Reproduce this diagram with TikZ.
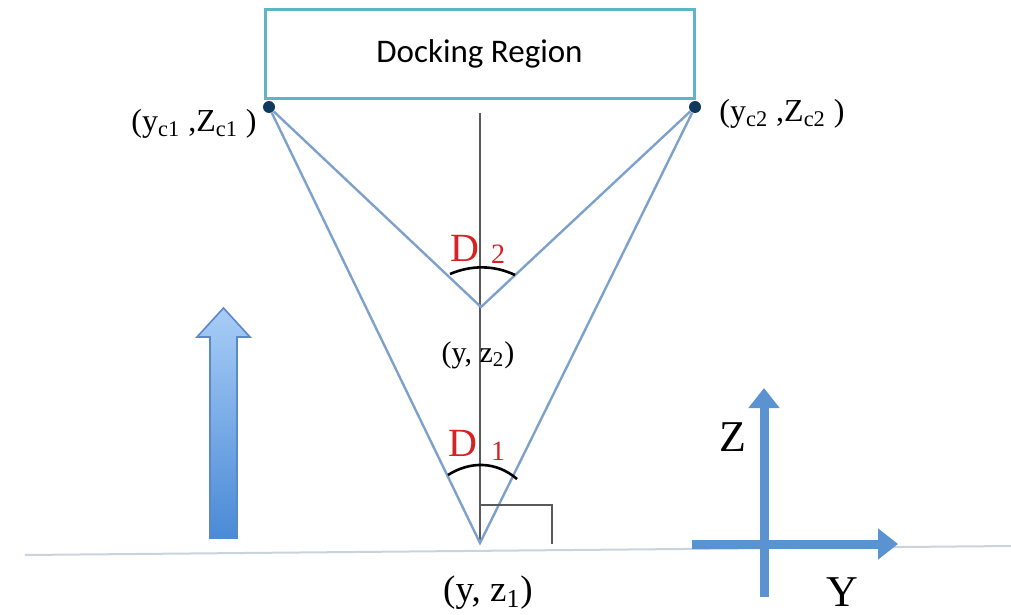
\documentclass[tikz,border=0pt]{standalone}
\usepackage{fontspec}
\setmainfont{Liberation Serif}
\newfontfamily\calibri{Carlito}
\usetikzlibrary{arrows.meta}
\definecolor{dockcol}{HTML}{5FB4C9}
\definecolor{conecol}{HTML}{7EA1CC}
\definecolor{dotcol}{HTML}{0E3A5E}
\definecolor{axiscol}{HTML}{5B93D1}
\definecolor{groundcol}{HTML}{C9D3DC}
\definecolor{anglecol}{HTML}{D62222}
\definecolor{movetop}{HTML}{A8CDF6}
\definecolor{movebot}{HTML}{4A8AD6}
\definecolor{moveedge}{HTML}{5A88C8}

\begin{document}
\begin{tikzpicture}[x=0.5pt,y=-0.5pt,
    coneline/.style={draw=conecol,line width=1.2pt},
    cornerdot/.style={circle,fill=dotcol,inner sep=0pt,minimum size=6pt},
    pointlabel/.style={font=\fontsize{16}{18}\selectfont,inner sep=0pt},
    anglearc/.style={draw=black,line width=1.3pt},
    anglelab/.style={text=anglecol,font=\fontsize{20}{22}\selectfont,inner sep=0pt},
    angleidx/.style={text=anglecol,font=\fontsize{14}{16}\selectfont,inner sep=0pt},
    axisarrow/.style={draw=axiscol,line width=4.5pt,-{Triangle[length=10pt,width=15pt]}}]
  \useasboundingbox (0,0) rectangle (1011,615);
  % ground
  \coordinate (gl) at (25,555);
  \coordinate (gr) at (1011,546);
  \draw[groundcol,line width=1pt] (gl) -- (gr);
  % docking region
  \node[draw=dockcol,line width=1.5pt,minimum width=214.5pt,minimum height=44.5pt,
    font=\calibri\fontsize{16.5}{18}\selectfont] (dock) at (479.5,54) {Docking Region};
  \node[cornerdot] (c1) at (269,107) {};
  \node[cornerdot] (c2) at (695,107) {};
  \node[pointlabel,anchor=east] (c1lab) at (257,124) {(y\textsubscript{c1} ,Z\textsubscript{c1} )};
  \node[pointlabel,anchor=west] (c2lab) at (719,114) {(y\textsubscript{c2} ,Z\textsubscript{c2} )};
  % apexes
  \coordinate (p2) at (481,307);
  \coordinate (p1) at (480,543);
  \coordinate (vtop) at (480,113);
  \draw[gray!70!black,line width=1pt] (vtop) -- (p1);
  \draw[coneline] (c1) -- (p2) -- (c2);
  \draw[coneline] (c1) -- (p1) -- (c2);
  % angle arcs
  \draw[anglearc] (450,274) .. controls (471,265) and (494,265) .. (515,275);
  \draw[anglearc] (448,475) .. controls (470,461) and (496,461) .. (517,479);
  \node[anglelab] (d2) at (465,248) {D};
  \node[angleidx] (d2i) at (498,254) {2};
  \node[anglelab] (d1) at (463,443) {D};
  \node[angleidx] (d1i) at (498,451) {1};
  \node[pointlabel,font=\fontsize{15}{17}\selectfont] (p2lab) at (478,355) {(y, z\textsubscript{2})};
  \node[pointlabel,font=\fontsize{18.5}{20}\selectfont] (p1lab) at (488,593) {(y, z\textsubscript{1})};
  % right angle
  \coordinate (ra1) at (480,505);
  \coordinate (ra2) at (552,505);
  \coordinate (ra3) at (552,544);
  \draw[gray!70!black,line width=1pt] (ra1) -- (ra2) -- (ra3);
  % motion arrow
  \shade[top color=movetop,bottom color=movebot,draw=moveedge,line width=0.8pt]
    (210,538) -- (210,337) -- (197,337) -- (223.5,308) -- (250,337) -- (237,337) -- (237,538) -- cycle;
  % axes
  \coordinate (yfrom) at (692,544);
  \coordinate (yto) at (898,544);
  \coordinate (zfrom) at (764,597);
  \coordinate (zto) at (764,388);
  \draw[axisarrow] (yfrom) -- (yto);
  \draw[axisarrow] (zfrom) -- (zto);
  \node[font=\fontsize{22}{24}\selectfont,inner sep=0pt] (zlab) at (733,437) {Z};
  \node[font=\fontsize{22}{24}\selectfont,inner sep=0pt] (ylab) at (842,592) {Y};
\end{tikzpicture}
\end{document}
